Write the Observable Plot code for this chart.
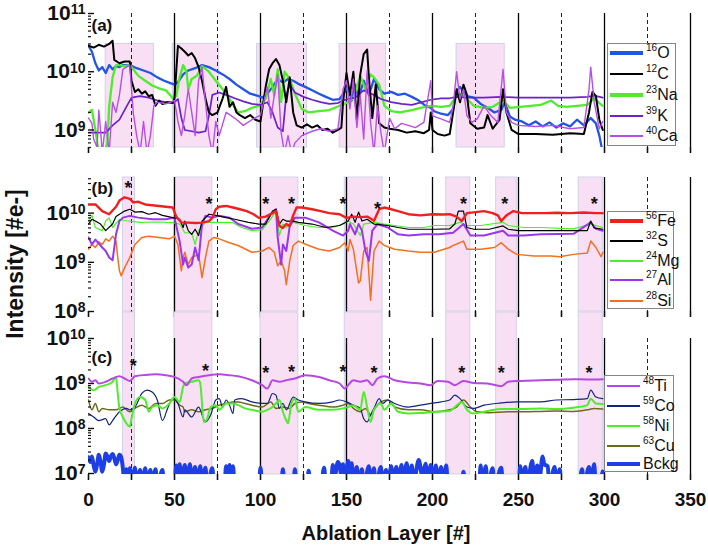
<!DOCTYPE html>
<html><head><meta charset="utf-8">
<script src="https://cdn.jsdelivr.net/npm/d3@7"></script>
<script src="https://cdn.jsdelivr.net/npm/@observablehq/plot@0.6"></script>
<style>
body{margin:0;background:#fff;}
#wrap{position:relative;width:708px;height:548px;overflow:hidden;font-family:"Liberation Sans",Arial,sans-serif;background:#fff;}
.panel{position:absolute;left:0;}
.legend{position:absolute;border:1.5px solid #858585;background:#fff;box-sizing:border-box;}
.entry{position:absolute;left:0;height:20px;display:flex;align-items:center;font-size:16px;white-space:nowrap;color:#111;}
.entry .sw{display:inline-block;width:33px;margin:0 3px 0 2px;}
.entry .lbl{display:inline-block;line-height:20px;}
.entry sup{font-size:10px;vertical-align:7px;line-height:0;}
.title{position:absolute;font-weight:bold;font-size:20px;white-space:nowrap;color:#111;}
</style>
</head><body>
<div id="wrap"></div>
<script>
// ---------- data ----------
const layerTicks = d3.range(0, 351, 25);
const solidLayers = [50, 100, 150, 200, 250, 300, 350];
const dashedLayers = [25, 75, 125, 175, 225, 275, 325];
const bandsA = [[10,38],[49,76],[98,127],[146,173],[214,242]];
const bandsBC = [[20,27],[50,72],[100,122],[149,171],[208,222],[237,249],[285,299]];

// panel (a)
const O16 = [[0,2.8e10],[2,2.2e10],[4,1.4e10],[6,1.05e10],[8,1.2e10],[10,9.5e9],[12,1.3e10],[14,1.1e10],[16,1.25e10],[18,1.2e10],[20,1.3e10],[24,1.3e10],[28,1.15e10],[32,1.05e10],[36,9.5e9],[40,8e9],[44,7e9],[48,6.3e9],[50,6e9],[52,6.6e9],[55,9e9],[58,1.05e10],[62,1.15e10],[66,1.3e10],[70,1.2e10],[74,1.05e10],[78,9e9],[82,7.5e9],[86,6e9],[90,5e9],[94,4.2e9],[98,3.9e9],[101,3.6e9],[104,4.2e9],[107,5.5e9],[110,7.5e9],[113,6.5e9],[116,7.5e9],[119,7e9],[122,6.2e9],[126,5.5e9],[130,4.8e9],[134,4.2e9],[138,3.7e9],[142,3.3e9],[146,3.4e9],[149,4.5e9],[151,5.5e9],[153,3.2e9],[155,6e9],[157,3.5e9],[160,7e9],[163,4e9],[166,7.5e9],[169,5e9],[172,4.2e9],[176,4.5e9],[180,4e9],[184,4.2e9],[188,3.7e9],[192,3.2e9],[196,2.6e9],[199,2.4e9],[201,2.1e9],[205,1.9e9],[209,1.8e9],[212,2.3e9],[214,4.6e9],[216,5.5e9],[218,4.6e9],[220,3.8e9],[224,3.6e9],[228,2.8e9],[232,2.4e9],[236,2e9],[240,2.2e9],[242,3e9],[245,1.7e9],[248,1.5e9],[252,1.4e9],[256,1.2e9],[260,1.4e9],[264,1.15e9],[268,1.35e9],[272,1.1e9],[276,1.3e9],[280,1.15e9],[284,1.5e9],[288,1.2e9],[292,1.6e9],[295,1.3e9],[297,8e8],[299,4e8]];
const C12 = [[0,2.8e10],[3,2.6e10],[6,2.9e10],[9,2.7e10],[12,3e10],[14,3.4e10],[15,1.6e10],[18,1.4e10],[21,1.5e10],[24,1.5e10],[25,7e9],[27,4.5e9],[29,5e9],[31,4.2e9],[33,4.6e9],[35,3.8e9],[37,4e9],[39,2.6e9],[41,3.2e9],[43,2.8e9],[46,3e9],[49,2.9e9],[50,3.5e9],[52,2.8e10],[54,2.5e10],[56,2.2e10],[58,1.9e10],[60,2.1e10],[62,1.7e10],[64,1.2e10],[66,7e9],[68,3.5e9],[70,2e9],[72,1.8e9],[75,2e9],[78,3.5e9],[80,5.5e9],[82,2.5e9],[84,3e9],[86,2e9],[88,1.8e9],[91,1.6e9],[94,1.8e9],[97,1.5e9],[100,1.4e9],[103,5.5e9],[105,1.1e10],[107,1.4e10],[109,1.65e10],[111,1.3e10],[113,7e9],[115,3e9],[117,8e9],[119,2e9],[121,1.2e9],[124,1.1e9],[127,1.25e9],[130,1.1e9],[133,1.2e9],[136,1e9],[139,1.05e9],[142,9e8],[145,1e9],[147,1.1e9],[148,3e9],[150,9.5e9],[152,4e9],[154,1e10],[156,1.5e9],[158,9e9],[160,2e10],[162,2.4e10],[163,8e9],[165,1.6e9],[167,6e9],[169,1.3e9],[172,1.1e9],[175,1.05e9],[180,1e9],[185,9e8],[190,9.5e8],[195,8.8e8],[198,1e9],[199,2e9],[200,1e9],[203,8.5e8],[207,8e8],[210,8.5e8],[212,2e9],[214,5e9],[216,3e9],[218,6e9],[220,4e9],[222,1.3e9],[226,1.05e9],[230,1.1e9],[232,1.8e9],[235,1.05e9],[239,1.5e9],[241,5e9],[243,2e9],[246,1e9],[250,8.5e8],[260,8.5e8],[270,8.3e8],[280,8.8e8],[288,8.5e8],[291,2e9],[293,4.5e9],[295,3.8e9],[297,1.5e9],[299,1e9]];
const Na23 = [[0,2e9],[2,2.2e9],[4,1e9],[6,4e8],[9,4e8],[11,6e8],[12,2.5e9],[14,8e9],[16,1.3e10],[18,1.3e10],[21,1.25e10],[24,1.3e10],[26,1.1e10],[29,8.5e9],[33,7e9],[37,5.8e9],[41,5.2e9],[45,4.8e9],[49,3.5e9],[51,3.8e9],[53,8e9],[55,1.3e10],[57,1e10],[58,5e9],[60,7.5e9],[63,8.5e9],[66,1.25e10],[70,1e10],[74,7e9],[78,5e9],[81,3.8e9],[84,2.7e9],[87,2e9],[91,2.1e9],[95,2.4e9],[99,2.6e9],[103,3.4e9],[106,7.5e9],[108,3.9e9],[110,1.1e10],[112,3e9],[114,1e10],[117,7.5e9],[120,4.2e9],[124,2.3e9],[128,2e9],[134,2.1e9],[140,2.2e9],[146,2.6e9],[150,2.9e9],[154,3.5e9],[158,8.5e9],[161,5e9],[164,9e9],[166,8e9],[169,6e9],[172,2.6e9],[176,2.1e9],[181,2e9],[188,2.2e9],[193,2.4e9],[199,2.6e9],[205,2.5e9],[210,2.6e9],[213,3.5e9],[217,4.2e9],[220,3.4e9],[224,2.6e9],[230,2.4e9],[235,2.5e9],[241,3.2e9],[245,2.4e9],[251,2.5e9],[257,2.6e9],[263,2.7e9],[269,3.2e9],[273,2.6e9],[278,2.5e9],[284,2.6e9],[290,2.7e9],[294,3.5e9],[297,2.9e9],[299,2.6e9]];
const K39 = [[0,9e8],[5,9e8],[10,9e8],[14,1.2e9],[18,1.5e9],[22,2.5e9],[25,3.6e9],[30,3.8e9],[35,3.6e9],[40,3.2e9],[45,3e9],[50,3e9],[52,3.4e9],[54,1.6e9],[56,1e9],[60,9.5e8],[64,9e8],[68,9.5e8],[70,1.75e9],[72,4e9],[76,4.4e9],[80,4e9],[85,3.5e9],[90,3.1e9],[95,2.8e9],[100,2.7e9],[104,3e9],[107,2e9],[110,1.1e9],[113,9.5e8],[115,4e9],[117,6e9],[120,4.4e9],[125,3.7e9],[130,3.3e9],[135,3e9],[140,2.8e9],[145,2.9e9],[148,3.2e9],[151,3.4e9],[155,3.6e9],[160,4.8e9],[166,4e9],[170,3.4e9],[176,3e9],[182,2.8e9],[188,2.7e9],[194,3e9],[199,3.3e9],[205,3.5e9],[210,3.5e9],[214,3.7e9],[220,3.6e9],[230,3.6e9],[240,3.7e9],[250,3.6e9],[260,3.6e9],[270,3.6e9],[280,3.6e9],[290,3.7e9],[294,3.9e9],[299,3.6e9]];
const Ca40 = [[0,1.6e9],[2,1.3e9],[3,7e8],[5,5e8],[6,2.2e9],[7,1e9],[8,4e8],[10,1.4e9],[12,4e8],[14,3e9],[16,2e9],[18,4e9],[20,1.1e10],[22,1.2e10],[24,1.3e10],[26,2e9],[28,8e8],[30,4e8],[32,1.4e9],[34,4e8],[36,8e8],[38,2.6e9],[40,3e9],[45,2.8e9],[50,3.2e9],[52,1.4e9],[54,8e8],[56,1.8e9],[58,5e9],[60,2e9],[62,8e8],[64,7e9],[66,1.2e10],[68,3e9],[70,8e8],[72,4e8],[74,1.4e9],[76,8e8],[80,2e9],[85,1.6e9],[90,1.2e9],[95,1.5e9],[100,1.8e9],[104,5.5e9],[106,1.6e9],[108,3.9e9],[110,9e9],[112,9e8],[114,4e8],[116,8e8],[118,4e8],[120,6e8],[124,8e8],[130,9.5e8],[135,1.05e9],[140,9.5e8],[145,1.05e9],[148,5e9],[150,7e9],[152,2.3e9],[154,7.5e9],[156,1.1e9],[158,3.9e9],[160,7e8],[162,1.05e10],[164,1.35e9],[166,4e8],[168,2.6e9],[170,9e8],[172,4e8],[175,1.6e9],[178,1.05e9],[182,1.3e9],[186,1.2e9],[190,1.1e9],[195,1.35e9],[199,7e9],[200,1.75e9],[205,1.55e9],[210,1.35e9],[212,2.6e9],[214,1e10],[216,3.4e9],[218,5e9],[220,1.75e9],[223,1.35e9],[226,1.55e9],[230,2.6e9],[234,1.75e9],[238,1.35e9],[241,1.1e10],[243,2e9],[246,1.35e9],[250,1.2e9],[260,1.15e9],[270,1.2e9],[280,1.05e9],[288,1.1e9],[291,5e9],[292,1.2e10],[294,3e9],[297,1.05e9],[299,1.4e9]];

// panel (b)
const Fe56 = [[0,1.5e10],[4,1.5e10],[8,1.1e10],[12,9.5e9],[16,1.35e10],[18,1.8e10],[21,2.1e10],[24,1.95e10],[26,1.65e10],[29,1.7e10],[33,1.5e10],[37,1.45e10],[41,1.4e10],[45,1.35e10],[49,1.3e10],[51,8.5e9],[54,6.5e9],[58,6.4e9],[62,6.3e9],[66,6.4e9],[70,6.9e9],[72,8e9],[74,1.2e10],[76,1.35e10],[80,1.4e10],[84,1.3e10],[88,1.2e10],[92,1.1e10],[96,9.5e9],[99,8e9],[103,8.5e9],[107,1e10],[109,1.1e10],[111,5.5e9],[113,5e9],[115,6e9],[117,5.5e9],[119,9e9],[121,1.3e10],[124,1.3e10],[130,1.2e10],[135,1.1e10],[140,1e10],[146,9.5e9],[150,8e9],[154,8.5e9],[158,8.3e9],[162,8.5e9],[166,7e9],[169,1.2e10],[172,1.3e10],[176,1.2e10],[180,1.1e10],[186,9.5e9],[193,9e9],[200,9.5e9],[206,9.4e9],[210,9.5e9],[214,8.5e9],[217,6.9e9],[220,1e10],[225,1.05e10],[230,1.1e10],[235,1e10],[238,9e9],[240,6.9e9],[243,9e9],[247,1.1e10],[252,1e10],[258,1e10],[265,1e10],[272,1.02e10],[280,1e10],[288,1.03e10],[295,1e10],[299,1e10]];
const S32 = [[0,6e9],[2,7.5e9],[4,6.9e9],[7,6e9],[10,4.4e9],[14,6e9],[16,8.5e9],[18,9.5e9],[21,1.1e10],[24,1.2e10],[27,1.05e10],[31,1.07e10],[35,9.5e9],[39,1.02e10],[43,9e9],[49,8.1e9],[53,7.5e9],[55,5.1e9],[56,6.9e9],[58,4.4e9],[60,3.7e9],[62,4.7e9],[64,3.5e9],[66,6.9e9],[70,9.5e9],[74,9e9],[80,8.1e9],[85,7.5e9],[93,6.5e9],[99,6e9],[103,6e9],[107,1.1e10],[109,1.2e10],[111,6e9],[113,7.5e9],[115,6.9e9],[119,6.9e9],[122,6.5e9],[130,6e9],[138,5.1e9],[146,5.6e9],[151,6.9e9],[153,9.5e9],[155,6.5e9],[157,1.05e10],[159,6.9e9],[162,7.5e9],[166,6e9],[174,5.6e9],[180,5.1e9],[186,4.7e9],[193,4.7e9],[201,4.7e9],[210,4.8e9],[213,6e9],[215,1.1e10],[218,1.1e10],[220,5.1e9],[224,4.7e9],[233,4.7e9],[241,5.5e9],[244,4.7e9],[250,4.4e9],[263,4.4e9],[272,4.4e9],[281,4.4e9],[290,4.4e9],[292,6.9e9],[294,5e9],[299,4.7e9]];
const Mg24 = [[0,6.9e9],[2,9e9],[4,5.1e9],[8,4.4e9],[10,6.9e9],[12,8e9],[14,5.1e9],[18,7.5e9],[22,7e9],[30,6.5e9],[40,6.6e9],[49,6.4e9],[53,6e9],[56,4e9],[60,3.9e9],[62,2.3e9],[64,4.4e9],[68,6.5e9],[76,6.5e9],[84,6.4e9],[89,5.1e9],[95,4.4e9],[101,4.6e9],[105,6.9e9],[109,1.1e10],[111,3.5e9],[113,6e9],[115,5.1e9],[119,6.5e9],[126,5.6e9],[134,5.1e9],[142,5.1e9],[148,6e9],[151,6.9e9],[154,6e9],[158,3.5e9],[160,6e9],[166,6.5e9],[172,6e9],[178,5.6e9],[186,5.1e9],[195,5.1e9],[201,5.6e9],[210,5.6e9],[216,6.5e9],[220,5.6e9],[228,5.6e9],[241,6.5e9],[244,5.6e9],[253,5.1e9],[263,5.1e9],[282,4.8e9],[292,6e9],[299,5.1e9]];
const Al27 = [[0,3.2e9],[2,2.3e9],[4,2.9e9],[8,2e9],[10,1.7e9],[12,1.25e9],[14,1.1e9],[16,3.7e9],[18,6.9e9],[20,8.1e9],[24,8.8e9],[29,8.1e9],[37,7.5e9],[45,7.5e9],[50,8.1e9],[53,2.7e9],[55,9e8],[56,1.25e9],[58,7.8e8],[60,9e8],[62,2e9],[64,1.1e9],[66,6e9],[68,8.8e9],[72,8.1e9],[76,8.8e9],[82,8.1e9],[87,6e9],[95,4.8e9],[101,5.1e9],[106,9.5e9],[109,1.2e10],[110,3.2e9],[112,9e8],[113,2.3e9],[115,1.7e9],[117,5.5e9],[120,8.1e9],[126,8.1e9],[134,6.5e9],[142,4.4e9],[148,3.5e9],[151,4.4e9],[152,6e9],[155,3.7e9],[157,6e9],[159,4.4e9],[161,1.7e9],[163,1.07e9],[165,4.4e9],[168,6e9],[174,5.1e9],[180,3.7e9],[186,3.5e9],[195,3.7e9],[204,3.7e9],[212,4e9],[218,6e9],[222,3.5e9],[230,3.5e9],[241,4.4e9],[244,3.5e9],[253,3.5e9],[263,3.7e9],[282,3.8e9],[292,6.5e9],[295,4.8e9],[299,4.4e9]];
const Si28 = [[0,1.85e9],[2,2.3e9],[4,2e9],[6,2.6e9],[8,2.3e9],[10,3e9],[12,2.7e9],[14,3.4e9],[16,2.7e9],[17,1.25e9],[18,6.7e8],[19,5.3e8],[21,7.8e8],[24,1.25e9],[27,2.3e9],[31,3.2e9],[35,3.4e9],[41,3.2e9],[47,3e9],[50,3.4e9],[52,2.3e9],[54,6.7e8],[55,1.25e9],[56,1.6e9],[58,9e8],[60,1.25e9],[64,1.45e9],[66,4.9e8],[68,1.25e9],[70,2.7e9],[73,3.2e9],[76,3e9],[82,2.5e9],[87,2.2e9],[95,1.6e9],[101,1.7e9],[105,2e9],[108,1.6e9],[110,8.5e8],[112,1.07e9],[114,6.7e8],[115,3.5e8],[117,1.07e9],[119,2.2e9],[122,2.7e9],[128,2.2e9],[134,1.85e9],[140,1.7e9],[146,2e9],[149,2.5e9],[151,1.7e9],[152,2.9e9],[154,1.85e9],[157,3.8e8],[158,4.2e8],[160,1.7e9],[162,2e9],[164,1.7e8],[166,1.7e9],[169,2.7e9],[172,2.2e9],[178,1.85e9],[186,1.7e9],[193,1.6e9],[201,1.6e9],[210,2e9],[212,2.2e9],[218,2.7e9],[220,1.85e9],[228,1.85e9],[236,2e9],[240,2.5e9],[244,1.85e9],[249,1.45e9],[259,1.35e9],[269,1.35e9],[274,1.3e9],[282,1.45e9],[290,1.55e9],[292,2.7e9],[295,2e9],[298,1.3e9],[299,1.6e9]];

// panel (c)
const Ti48 = [[0,1.29e9],[2,1.09e9],[4,1.18e9],[6,1e9],[10,1.09e9],[14,1.29e9],[18,1.45e9],[21,1.29e9],[24,1.14e9],[27,1.45e9],[33,1.55e9],[39,1.6e9],[45,1.53e9],[50,1.4e9],[55,1.09e9],[57,9.2e8],[60,1.29e9],[64,1.4e9],[70,1.53e9],[76,1.6e9],[82,1.53e9],[87,1.45e9],[95,1.18e9],[101,9.2e8],[104,7.7e8],[107,1.18e9],[111,1.09e9],[115,1.18e9],[120,1.29e9],[126,1.53e9],[134,1.4e9],[140,1.18e9],[146,1e9],[149,7.7e8],[151,9.2e8],[154,1.18e9],[158,1.09e9],[162,1.18e9],[165,9.2e8],[168,1.29e9],[172,1.45e9],[178,1.18e9],[186,1.05e9],[193,1e9],[199,9.2e8],[203,1.14e9],[209,1.09e9],[213,9.2e8],[218,1.14e9],[224,1.03e9],[232,1e9],[240,8.7e8],[244,1.09e9],[251,1.14e9],[263,1.18e9],[272,1.21e9],[282,1.25e9],[290,1.23e9],[299,1.25e9]];
const Co59 = [[0,2.15e8],[3,1.8e8],[6,1.5e8],[10,1.65e8],[12,1.2e8],[14,1.5e8],[18,2.35e8],[22,2.8e8],[24,2.6e8],[27,3e8],[31,6e8],[34,7.1e8],[37,6.5e8],[40,4.3e8],[43,1.5e8],[46,2.8e8],[49,4.6e8],[52,3.6e8],[55,1.8e8],[56,2.6e8],[60,1.8e8],[64,3e8],[68,1.4e8],[71,2e8],[74,4.3e8],[76,4.6e8],[78,3e8],[80,4.3e8],[82,3.3e8],[84,2.15e8],[85,4.3e8],[89,4.6e8],[95,3.9e8],[101,3.6e8],[104,3.6e8],[107,6e8],[109,5.5e8],[111,2.8e8],[113,3.6e8],[115,2.6e8],[119,5e8],[122,4.3e8],[126,3.9e8],[134,3.6e8],[142,3.9e8],[146,4.3e8],[150,3.9e8],[154,3.3e8],[158,2.8e8],[160,1.65e8],[162,1.4e8],[164,2e8],[166,2.8e8],[169,4.6e8],[171,3.6e8],[174,4.3e8],[178,3.6e8],[186,3e8],[193,3.3e8],[199,3.6e8],[205,3.9e8],[210,4.3e8],[213,5.5e8],[216,4.6e8],[220,3e8],[224,2.8e8],[230,3.3e8],[240,3.7e8],[249,3.9e8],[263,3.9e8],[272,4.3e8],[282,4.4e8],[290,4.6e8],[292,7.1e8],[295,5e8],[299,4.6e8]];
const Ni58 = [[0,8.4e8],[3,7.1e8],[6,8.4e8],[10,9.2e8],[14,1.09e9],[16,1.4e9],[17,6e8],[18,2.8e8],[20,1.8e8],[22,1.3e8],[24,1.1e8],[25,1.65e8],[27,3.6e8],[30,5e8],[33,4.3e8],[35,2.35e8],[37,3e8],[40,3.3e8],[43,2.8e8],[47,3.6e8],[50,5e8],[53,3.9e8],[55,8.4e8],[56,1e9],[60,1.09e9],[64,1.18e9],[65,1e9],[67,1.4e8],[69,1.65e8],[71,3e8],[74,3.3e8],[76,2.6e8],[80,3.6e8],[84,3.6e8],[87,3.3e8],[91,2.8e8],[95,2.6e8],[101,2.35e8],[104,2.6e8],[107,3e8],[109,3.6e8],[111,4.3e8],[113,2.35e8],[115,1.5e8],[116,1.3e8],[118,3.6e8],[120,4.6e8],[122,2.35e8],[126,3e8],[134,2.6e8],[142,2.6e8],[148,2.8e8],[151,3e8],[154,3.3e8],[158,2.6e8],[160,6.5e8],[162,3e8],[164,1.4e8],[166,2.6e8],[170,3.6e8],[172,2.6e8],[176,3.6e8],[180,2.35e8],[186,2.15e8],[193,2.2e8],[201,2.35e8],[210,2.45e8],[213,3e8],[217,3.9e8],[220,2.6e8],[224,2.15e8],[232,2.45e8],[240,2.7e8],[249,2.7e8],[263,2.8e8],[272,2.7e8],[282,2.9e8],[290,3.3e8],[292,4.6e8],[295,3.6e8],[299,3.5e8]];
const Cu63 = [[0,4.3e8],[2,2.6e8],[4,3.6e8],[6,2.35e8],[8,2.8e8],[12,2.6e8],[16,2.6e8],[20,3e8],[24,2.35e8],[27,2.8e8],[31,3.3e8],[35,2.8e8],[39,3.6e8],[43,3.6e8],[47,4.3e8],[50,4.3e8],[53,3.3e8],[55,3e8],[56,2.35e8],[60,2.6e8],[64,2.35e8],[68,2.6e8],[72,2.8e8],[76,3.3e8],[80,3.6e8],[84,3.9e8],[87,3.9e8],[91,3.6e8],[95,3.3e8],[101,3e8],[106,3.9e8],[109,2.8e8],[113,3e8],[117,2.8e8],[120,3.6e8],[124,3.9e8],[128,3.6e8],[134,3.3e8],[142,3e8],[148,3.3e8],[151,3.6e8],[154,2.8e8],[158,2.35e8],[161,2.8e8],[164,2e8],[166,2.6e8],[170,3.9e8],[174,4.3e8],[178,3e8],[186,2.6e8],[193,2.6e8],[201,2.35e8],[210,2.6e8],[214,3e8],[218,4.3e8],[222,3e8],[226,2.35e8],[233,2.25e8],[244,2.35e8],[253,2.35e8],[263,2.4e8],[272,2.45e8],[282,2.4e8],[290,2.6e8],[294,2.8e8],[299,2.7e8]];
const Bckg = [[0,2.3e7],[1,1.8e7],[2,2.4e7],[3,1.5e7],[4,1.1e7],[5,1.6e7],[6,2.6e7],[7,1.8e7],[8,1.1e7],[9,1.6e7],[10,2.8e7],[11,2.4e7],[12,1.9e7],[13,2.4e7],[14,2.7e7],[15,2.2e7],[16,1.6e7],[17,2e7],[18,2.6e7],[19,2.3e7],[20,1.3e7],[21,5e6],[22,1.25e7],[23,5e6],[24,1.3e7],[25,5e6],[27,1.35e7],[28,5e6],[30,1.2e7],[31,5e6],[33,1.3e7],[34,5e6],[36,1.2e7],[37,5e6],[39,1.25e7],[40,5e6],[43,1.2e7],[44,5e6],[50,5e6],[51,1.5e7],[52,6e6],[53,1.6e7],[54,6e6],[56,1.55e7],[57,6e6],[59,1.6e7],[60,6e6],[62,1.4e7],[63,5e6],[65,1.45e7],[66,5e6],[68,1.35e7],[69,5e6],[72,1.3e7],[73,5e6],[79,5e6],[80,1.45e7],[81,6e6],[82,1.55e7],[83,6e6],[84,1.45e7],[85,5e6],[99,5e6],[100,1.35e7],[101,5e6],[112,5e6],[113,1.25e7],[114,5e6],[119,5e6],[120,1.25e7],[121,5e6],[127,5e6],[128,1.15e7],[129,5e6],[135,5e6],[137,1.35e7],[138,5e6],[141,5e6],[142,1.55e7],[143,8e6],[145,1.8e7],[146,1.5e7],[147,9e6],[148,1.6e7],[149,6e6],[151,1.9e7],[152,9e6],[153,1.7e7],[154,6e6],[156,1.4e7],[157,5e6],[159,1.25e7],[160,5e6],[163,1.45e7],[164,5e6],[166,1.3e7],[167,5e6],[170,1.4e7],[171,5e6],[173,1.2e7],[174,5e6],[176,1.45e7],[177,6e6],[179,1.4e7],[180,5e6],[182,1.55e7],[183,6e6],[185,1.7e7],[186,7e6],[188,1.5e7],[189,6e6],[192,2e7],[194,9e6],[196,1.65e7],[197,6e6],[199,1.55e7],[200,6e6],[202,1.5e7],[203,5e6],[205,1.4e7],[206,5e6],[208,1.5e7],[209,5e6],[217,5e6],[218,1.1e7],[219,5e6],[227,5e6],[228,1.5e7],[229,5e6],[231,1.45e7],[232,5e6],[235,1.3e7],[236,5e6],[240,1.35e7],[241,5e6],[250,5e6],[251,1.45e7],[252,6e6],[254,1.4e7],[255,6e6],[258,1.9e7],[259,8e6],[261,1.5e7],[262,6e6],[264,2.4e7],[265,1.6e7],[267,1.45e7],[268,5e6],[271,1.4e7],[272,5e6],[274,1.25e7],[275,5e6],[285,5e6],[287,1.25e7],[288,5e6],[291,1.4e7],[292,5e6],[294,1.6e7],[295,5e6],[299,1.1e7]];

// asterisk annotations (layer, intensity)
const starsB = [[23,3.25e10],[70,1.55e10],[103,1.55e10],[118,1.55e10],[148,1.55e10],[168,1.22e10],[218,1.55e10],[242,1.55e10],[294,1.55e10]];
const starsC = [[26,2.45e9],[68,1.85e9],[103,1.65e9],[118,1.75e9],[148,1.75e9],[166,1.7e9],[217,1.7e9],[240,1.7e9],[291,1.7e9]];

// ---------- styling / layout ----------
const FONT = '"Liberation Sans", Arial, sans-serif';
const PINK = "#f9dff4", PINK_EDGE = "#cfd3e8";

const panels = [
  {label:"(a)", top:0, height:160, mt:13, mb:13, domain:[5e8,1e11], majors:[1e9,1e10,1e11],
   bands:bandsA, bandLo:5e8, bandHi:3e10, xLabels:false, curve:"linear", stars:null, labelDy:5,
   series:[
     {d:O16, iso:"16", el:"O", c:"#2454e6", w:2.3},
     {d:Na23, iso:"23", el:"Na", c:"#4ded2b", w:2.3},
     {d:K39, iso:"39", el:"K", c:"#6a22c9", w:1.7},
     {d:C12, iso:"12", el:"C", c:"#000000", w:2},
     {d:Ca40, iso:"40", el:"Ca", c:"#b94ee6", w:1.4}],
   legendOrder:["O","C","Na","K","Ca"],
   legend:{left:607, top:43, width:69, height:103, rows:[10,31,52,73,93]}},
  {label:"(b)", top:160, height:165, mt:17, mb:14, domain:[1e8,5.3e10], majors:[1e8,1e9,1e10],
   bands:bandsBC, bandLo:1e8, bandHi:5.3e10, xLabels:false, curve:"linear", stars:starsB, labelDy:4,
   series:[
     {d:Si28, iso:"28", el:"Si", c:"#f2701f", w:1.5},
     {d:Mg24, iso:"24", el:"Mg", c:"#4ded2b", w:1.2},
     {d:Al27, iso:"27", el:"Al", c:"#9a36ee", w:2},
     {d:S32, iso:"32", el:"S", c:"#000000", w:1.2},
     {d:Fe56, iso:"56", el:"Fe", c:"#ee2020", w:2.4}],
   legendOrder:["Fe","S","Mg","Al","Si"],
   legend:{left:607, top:211, width:67, height:98, rows:[10,30,50,69,90]}},
  {label:"(c)", top:311, height:237, mt:27, mb:74, domain:[9.5e6,1e10], majors:[1e7,1e8,1e9,1e10],
   bands:bandsBC, bandLo:9.5e6, bandHi:3.8e10, xLabels:true, curve:"monotone-x", stars:starsC, labelDy:12,
   series:[
     {d:Cu63, iso:"63", el:"Cu", c:"#6e6a1c", w:1.5},
     {d:Co59, iso:"59", el:"Co", c:"#14237e", w:1.2},
     {d:Ni58, iso:"58", el:"Ni", c:"#4ded2b", w:2},
     {d:Ti48, iso:"48", el:"Ti", c:"#b748e2", w:2},
     {d:Bckg, iso:"", el:"Bckg", c:"#1f3fe6", w:4}],
   legendOrder:["Ti","Co","Ni","Cu","Bckg"],
   legend:{left:604, top:375, width:70, height:97, rows:[11,31,51,71,89]}}
];

const wrap = document.getElementById("wrap");
const NS = "http://www.w3.org/2000/svg";

function minorTicks(domain){
  return d3.scaleLog().domain(domain).ticks(20).filter(v => {
    const l = Math.log10(v); return Math.abs(l - Math.round(l)) > 1e-9;
  });
}

for (const p of panels) {
  const bandData = p.bands.map(([a,b]) => ({x1:a, x2:b, y1:p.bandLo, y2:p.bandHi}));
  const marks = [
    Plot.rect(bandData, {x1:"x1", x2:"x2", y1:"y1", y2:"y2", fill:PINK, stroke:PINK_EDGE, strokeWidth:1}),
    Plot.ruleX(dashedLayers, {stroke:"#222", strokeWidth:1, strokeDasharray:"4,3"}),
    Plot.ruleX(solidLayers, {stroke:"#000", strokeWidth:1.3}),
    ...p.series.map(s => Plot.line(s.d, {x:d=>d[0], y:d=>d[1], stroke:s.c, strokeWidth:s.w, curve:p.curve, clip:true})),
    Plot.axisY({ticks:minorTicks(p.domain), tickSize:-3, tickFormat:()=>"", strokeWidth:1.2}),
    Plot.axisY({ticks:p.majors, tickSize:-6, tickFormat:()=>"", strokeWidth:1.4}),
    Plot.axisY({ticks:p.majors, tickSize:0, tickPadding:3, line:true, strokeWidth:1.6, fontSize:21,
                tickFormat:d=>"10^"+Math.round(Math.log10(d)), label:null}),
    Plot.axisX({ticks:layerTicks, tickSize:6, line:true, strokeWidth:1.6, label:null, fontSize:19,
                tickPadding:12, tickFormat: p.xLabels ? (d => d % 50 === 0 ? String(d) : "") : (() => "")}),
    Plot.text([p.label], {frameAnchor:"top-left", dx:3, dy:p.labelDy, fontSize:17, fontWeight:"bold", fill:"#111"})
  ];
  if (p.stars) marks.push(Plot.text(p.stars, {x:d=>d[0], y:d=>d[1], text:()=>"*", fontSize:18, fontWeight:"bold", fill:"#111"}));
  const svg = Plot.plot({
    width:708, height:p.height, marginLeft:88, marginRight:18, marginTop:p.mt, marginBottom:p.mb,
    x:{domain:[0,350]}, y:{type:"log", domain:p.domain},
    style:{background:"transparent", fontFamily:FONT, fontSize:"17px", fontWeight:"bold", color:"#111", overflow:"visible"},
    marks
  });
  svg.classList.add("panel");
  svg.style.top = p.top + "px";
  // superscript exponents on the y tick labels
  svg.querySelectorAll('g[aria-label="y-axis tick label"] text').forEach(t => {
    const s = t.textContent; if (!s.includes("^")) return;
    const [b, e] = s.split("^");
    t.textContent = "";
    const t1 = document.createElementNS(NS, "tspan"); t1.textContent = b;
    const t2 = document.createElementNS(NS, "tspan"); t2.textContent = e;
    t2.setAttribute("dy", "-0.42em"); t2.setAttribute("font-size", "14");
    t.append(t1, t2);
  });
  wrap.appendChild(svg);

  // legend
  const L = p.legend;
  const box = document.createElement("div");
  box.className = "legend";
  Object.assign(box.style, {left:L.left+"px", top:L.top+"px", width:L.width+"px", height:L.height+"px"});
  p.legendOrder.forEach((el, i) => {
    const s = p.series.find(q => q.el === el);
    const row = document.createElement("div");
    row.className = "entry";
    row.style.top = (L.rows[i] - 11) + "px";
    row.innerHTML = `<span class="sw" style="height:${Math.max(1.5, s.w + (s.w < 2 ? 0.3 : 0.8))}px;background:${s.c}"></span>` +
      `<span class="lbl">${s.iso ? `<sup>${s.iso}</sup>` : ""}${s.el}</span>`;
    box.appendChild(row);
  });
  wrap.appendChild(box);
}

// axis titles
const yt = document.createElement("div");
yt.className = "title";
yt.textContent = "Intensity [#e-]";
Object.assign(yt.style, {left:"15px", top:"264px", fontSize:"23px", transform:"translate(-50%,-50%) rotate(-90deg)"});
wrap.appendChild(yt);
const xt = document.createElement("div");
xt.className = "title";
xt.textContent = "Ablation Layer [#]";
Object.assign(xt.style, {left:"386px", top:"533px", transform:"translate(-50%,-50%)"});
wrap.appendChild(xt);
</script>
</body></html>
